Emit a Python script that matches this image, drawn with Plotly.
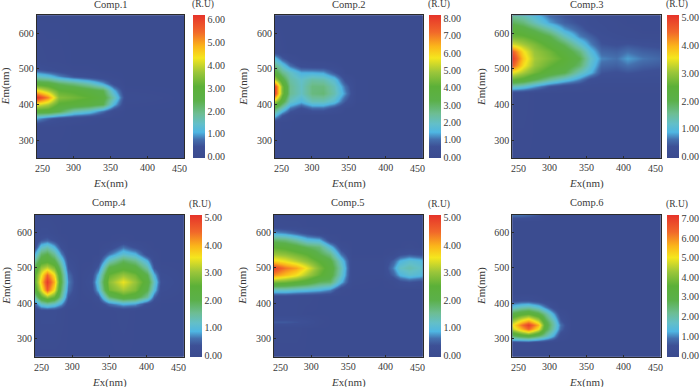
import plotly.graph_objects as go

W, H = 700, 387

titles = ["Comp.1", "Comp.2", "Comp.3", "Comp.4", "Comp.5", "Comp.6"]
x_ticks = [250, 300, 350, 400, 450]
y_ticks = [300, 400, 500, 600]

x1 = [250, 265, 280, 300, 320, 340, 355, 370, 450]
y1 = [250, 340, 360, 380, 400, 420, 440, 460, 480, 500, 520, 650]
z1 = [
    [.05, .05, .05, .05, .05, .05, .05, .05, .05],
    [.1, .1, .1, .05, .05, .05, .05, .05, .05],
    [1.0, .6, .3, .2, .1, .05, .05, .05, .05],
    [2.8, 2.8, 2.4, 1.6, 1.3, .7, .15, .05, .05],
    [4.2, 3.8, 3.0, 2.9, 2.7, 2.4, 1.1, .1, .05],
    [6.2, 5.2, 3.5, 3.3, 3.1, 2.7, 1.6, .2, .05],
    [4.4, 3.8, 3.1, 3.0, 2.7, 2.4, 1.1, .1, .05],
    [2.8, 2.7, 2.3, 2.0, 1.6, 1.0, .3, .05, .05],
    [1.5, 1.3, .9, .5, .3, .15, .1, .05, .05],
    [.5, .3, .2, .1, .1, .05, .05, .05, .05],
    [.15, .1, .1, .05, .05, .05, .05, .05, .05],
    [.05, .05, .05, .05, .05, .05, .05, .05, .05],
]

x2 = [250, 260, 270, 285, 300, 315, 330, 345, 360, 450]
y2 = [250, 350, 370, 390, 410, 430, 450, 470, 490, 510, 530, 550, 650]
z2 = [
    [.05, .05, .05, .05, .05, .05, .05, .05, .05, .05],
    [.2, .1, .1, .05, .05, .05, .05, .05, .05, .05],
    [1.6, .7, .2, .1, .05, .05, .05, .05, .05, .05],
    [3.0, 2.0, 1.0, .5, .9, .9, .5, .1, .05, .05],
    [5.0, 3.5, 2.0, 1.5, 2.1, 2.1, 1.7, .7, .1, .05],
    [7.8, 4.5, 2.5, 2.0, 2.7, 2.8, 2.2, 1.2, .1, .05],
    [7.8, 4.5, 2.5, 2.0, 2.7, 2.7, 2.1, 1.0, .1, .05],
    [5.0, 3.5, 2.3, 1.9, 2.3, 2.2, 1.7, .5, .1, .05],
    [3.5, 2.6, 2.0, 1.4, 1.4, 1.3, .7, .1, .05, .05],
    [2.6, 1.8, 1.0, .4, .3, .3, .2, .05, .05, .05],
    [1.6, .8, .3, .1, .05, .05, .05, .05, .05, .05],
    [.3, .15, .05, .05, .05, .05, .05, .05, .05, .05],
    [.05, .05, .05, .05, .05, .05, .05, .05, .05, .05],
]

x3 = [250, 265, 280, 300, 320, 340, 355, 370, 390, 405, 425, 450]
y3 = [250, 430, 450, 470, 490, 510, 530, 550, 570, 590, 610, 630, 650]
z3 = [
    [.05, .05, .05, .05, .05, .05, .05, .05, .05, .05, .05, .05],
    [.1, .1, .05, .05, .05, .05, .05, .05, .05, .05, .05, .05],
    [1.3, 1.1, .8, .4, .2, .15, .1, .1, .1, .1, .1, .1],
    [2.6, 2.4, 2.0, 1.5, 1.1, .7, .3, .2, .2, .2, .2, .2],
    [3.5, 3.1, 2.7, 2.3, 2.0, 1.3, .9, .4, .35, .4, .35, .3],
    [4.6, 3.6, 3.0, 2.6, 2.3, 1.8, 1.1, .55, .5, .62, .5, .45],
    [5.0, 3.8, 3.1, 2.8, 2.5, 2.0, 1.2, .7, .62, .8, .65, .55],
    [4.6, 3.6, 3.0, 2.7, 2.3, 1.7, 1.0, .55, .5, .62, .5, .45],
    [3.4, 3.1, 2.8, 2.4, 1.9, 1.2, .7, .4, .35, .4, .35, .3],
    [2.7, 2.6, 2.4, 2.0, 1.3, .7, .5, .3, .2, .15, .1, .1],
    [2.4, 2.2, 1.9, 1.4, .8, .5, .3, .2, .1, .1, .05, .05],
    [1.9, 1.7, 1.3, .8, .5, .35, .2, .15, .1, .05, .05, .05],
    [1.5, 1.3, 1.0, .6, .4, .3, .2, .1, .05, .05, .05, .05],
]

x4 = [250, 258, 266, 275, 285, 295, 310, 325, 335, 350, 368, 385, 400, 410, 420, 450]
y4 = [250, 380, 400, 420, 440, 460, 480, 500, 520, 540, 560, 580, 600, 650]
z4 = [
    [.05, .05, .05, .05, .05, .05, .05, .05, .05, .05, .05, .05, .05, .05, .05, .05],
    [.1, .2, .2, .2, .1, .05, .05, .05, .05, .05, .1, .05, .05, .05, .05, .05],
    [.5, 1.2, 1.4, 1.2, .8, .2, .05, .05, .1, .6, .9, .8, .3, .1, .05, .05],
    [1.5, 2.5, 3.0, 2.6, 1.5, .4, .05, .1, .4, 1.8, 2.4, 2.2, 1.5, .5, .1, .05],
    [2.3, 3.4, 4.6, 3.6, 1.8, .6, .05, .2, .9, 2.7, 3.1, 2.8, 2.0, 1.0, .2, .05],
    [2.6, 3.8, 5.0, 4.0, 2.0, .7, .05, .3, 1.1, 2.9, 3.5, 3.0, 2.3, 1.2, .3, .05],
    [2.5, 3.5, 4.5, 3.6, 1.9, .6, .05, .2, .9, 2.6, 3.0, 2.7, 2.0, .9, .2, .05],
    [2.1, 3.0, 3.3, 2.8, 1.6, .4, .05, .1, .5, 2.1, 2.4, 2.2, 1.4, .4, .1, .05],
    [1.5, 2.3, 2.4, 2.1, 1.2, .25, .05, .05, .2, 1.3, 1.9, 1.6, .9, .15, .05, .05],
    [.9, 1.8, 2.0, 1.5, .7, .1, .05, .05, .05, .6, 1.1, .9, .2, .1, .05, .05],
    [.3, 1.1, 1.3, .9, .3, .05, .05, .05, .05, .15, .6, .3, .1, .05, .05, .05],
    [.1, .4, .5, .3, .1, .05, .05, .05, .05, .05, .1, .05, .05, .05, .05, .05],
    [.1, .2, .2, .1, .05, .05, .05, .05, .05, .05, .05, .05, .05, .05, .05, .05],
    [.05, .05, .05, .05, .05, .05, .05, .05, .05, .05, .05, .05, .05, .05, .05, .05],
]

x5 = [250, 265, 280, 295, 310, 325, 340, 355, 395, 410, 420, 432, 445, 450]
y5 = [250, 330, 350, 370, 420, 440, 460, 480, 500, 520, 540, 560, 580, 600, 620, 650]
z5 = [
    [.05, .05, .05, .05, .05, .05, .05, .05, .05, .05, .05, .05, .05, .05],
    [.1, .1, .1, .05, .05, .05, .05, .05, .05, .05, .05, .05, .05, .05],
    [.45, .45, .4, .3, .1, .05, .05, .05, .05, .05, .05, .05, .05, .05],
    [.1, .1, .1, .05, .05, .05, .05, .05, .05, .05, .05, .05, .05, .05],
    [.15, .15, .1, .1, .05, .05, .05, .05, .05, .05, .05, .05, .05, .05],
    [1.2, 1.2, 1.1, 1.0, .9, .7, .1, .05, .05, .05, .05, .05, .05, .05],
    [2.8, 2.7, 2.5, 2.3, 1.9, 1.8, .9, .1, .05, .1, .3, .4, .3, .3],
    [4.2, 3.9, 3.6, 3.1, 2.6, 2.2, 1.2, .1, .1, .5, .9, 1.1, 1.0, .9],
    [4.9, 4.4, 4.1, 3.5, 2.8, 2.3, 1.3, .1, .1, .7, 1.2, 1.35, 1.2, 1.1],
    [3.7, 3.5, 3.2, 2.9, 2.5, 2.1, 1.1, .1, .1, .5, .9, 1.1, 1.0, .9],
    [3.0, 2.9, 2.7, 2.5, 2.0, 1.6, .6, .05, .05, .1, .3, .4, .3, .3],
    [2.5, 2.4, 2.2, 1.9, 1.7, 1.0, .2, .05, .05, .05, .05, .1, .05, .05],
    [1.8, 1.7, 1.4, 1.0, .9, .2, .05, .05, .05, .05, .05, .05, .05, .05],
    [.8, .7, .5, .3, .1, .05, .05, .05, .05, .05, .05, .05, .05, .05],
    [.15, .1, .1, .05, .05, .05, .05, .05, .05, .05, .05, .05, .05, .05],
    [.05, .05, .05, .05, .05, .05, .05, .05, .05, .05, .05, .05, .05, .05],
]

x6 = [250, 262, 272, 285, 295, 305, 315, 330, 450]
y6 = [250, 290, 310, 330, 340, 350, 370, 390, 410, 430, 630, 650]
z6 = [
    [.05, .05, .05, .05, .05, .05, .05, .05, .05],
    [.2, .2, .2, .1, .05, .05, .05, .05, .05],
    [2.6, 3.0, 3.2, 2.6, 2.0, 1.2, .3, .05, .05],
    [4.6, 5.6, 6.4, 5.0, 3.0, 1.9, .8, .05, .05],
    [5.0, 6.2, 7.0, 5.6, 3.2, 2.0, .9, .05, .05],
    [4.4, 5.4, 6.0, 4.8, 3.0, 1.9, .7, .05, .05],
    [3.0, 3.4, 3.6, 3.0, 2.2, 1.2, .3, .05, .05],
    [1.5, 1.8, 1.9, 1.5, .9, .3, .05, .05, .05],
    [.3, .4, .4, .2, .1, .05, .05, .05, .05],
    [.05, .05, .05, .05, .05, .05, .05, .05, .05],
    [.05, .05, .05, .05, .05, .05, .05, .05, .05],
    [.9, .9, .8, .6, .2, .05, .05, .05, .05],
]

xs = [x1, x2, x3, x4, x5, x6]
ys = [y1, y2, y3, y4, y5, y6]
zs = [z1, z2, z3, z4, z5, z6]
zmaxes = [6.2, 8.2, 5.1, 5.1, 5.1, 7.2]
cb_ticks = [
    [0, 1, 2, 3, 4, 5, 6],
    [0, 1, 2, 3, 4, 5, 6, 7, 8],
    [0, 1, 2, 3, 4, 5],
    [0, 1, 2, 3, 4, 5],
    [0, 1, 2, 3, 4, 5],
    [0, 1, 2, 3, 4, 5, 6, 7],
]

colorscale = [
    [0.00, "#3b4b8f"], [0.08, "#3d5096"], [0.13, "#4570ae"], [0.18, "#4fb6e2"],
    [0.24, "#63bfc8"], [0.31, "#6dbd93"], [0.40, "#5bb04a"], [0.50, "#5cb038"],
    [0.60, "#9cc63a"], [0.70, "#f5e61e"], [0.78, "#fbb61a"], [0.88, "#f1682a"],
    [1.00, "#e6332a"],
]

# pixel boxes: plot x0, x1, y0 (top), y1 (bottom); colourbar x0
boxes = [
    (36.7, 184.3, 15.3, 158.0, 193.0),
    (275.0, 422.7, 15.3, 158.0, 429.3),
    (512.3, 660.7, 15.3, 158.0, 666.7),
    (35.0, 183.7, 214.7, 356.7, 189.7),
    (274.0, 422.7, 214.7, 356.7, 429.3),
    (512.3, 660.7, 214.7, 356.7, 666.7),
]

FONT = "Liberation Serif"
INK = "#3a3a3a"
AXC = "#2b2b2b"

fig = go.Figure()
layout = dict(
    width=W, height=H, margin=dict(l=0, r=0, t=0, b=0), autosize=False,
    paper_bgcolor="white", plot_bgcolor="#3b4b8f", showlegend=False,
    font=dict(family=FONT, size=10, color=INK),
)
ann = []
for i, (bx0, bx1, by0, by1, cx) in enumerate(boxes):
    n = "" if i == 0 else str(i + 1)
    fig.add_trace(go.Heatmap(
        x=xs[i], y=ys[i], z=zs[i], zsmooth="best", xaxis=f"x{n}", yaxis=f"y{n}",
        colorscale=colorscale, zmin=-0.05, zmax=zmaxes[i], hoverinfo="skip",
        colorbar=dict(
            x=cx / W, xanchor="left", xref="paper", thickness=12, thicknessmode="pixels",
            y=1 - by1 / H, yanchor="bottom", yref="paper", len=(by1 - by0) / H, lenmode="fraction",
            outlinewidth=0, ypad=0, xpad=0, tickvals=cb_ticks[i], tickformat=".2f",
            ticks="", ticklabelposition="outside", tickfont=dict(family=FONT, size=10, color=INK),
        ),
    ))
    axis_common = dict(
        showgrid=False, zeroline=False, showline=True, mirror=True, linecolor=AXC, linewidth=1,
        ticks="inside", ticklen=2, tickwidth=1, tickcolor=AXC,
        tickfont=dict(family=FONT, size=10, color=INK),
    )
    xa = dict(axis_common)
    xa.update(domain=[bx0 / W, bx1 / W], range=[250, 450], anchor=f"y{n}",
              tickvals=x_ticks[1:-1])
    ya = dict(axis_common)
    ya.update(domain=[1 - by1 / H, 1 - by0 / H], range=[250, 650], anchor=f"x{n}",
              tickvals=y_ticks)
    layout[f"xaxis{n}"] = xa
    layout[f"yaxis{n}"] = ya
    xr = f"x{n} domain"
    yr = f"y{n} domain"
    top_row = i < 3
    ann.append(dict(text=titles[i], xref=xr, yref=yr, x=0.5, xanchor="center", y=1,
                    yshift=3 if top_row else 5, yanchor="bottom",
                    showarrow=False, font=dict(size=10.5)))
    ann.append(dict(text="<i>E</i>x(nm)", xref=xr, yref=yr, x=0.5, xanchor="center", y=0, yshift=-17,
                    yanchor="top", showarrow=False, font=dict(size=11)))
    ann.append(dict(text="<i>E</i>m(nm)", xref=xr, yref=yr, x=0, xanchor="center",
                    xshift=-28 if i == 3 else -31, y=0.5,
                    yanchor="middle", textangle=-90, showarrow=False, font=dict(size=11)))
    ann.append(dict(text=str(x_ticks[0]), xref=xr, yref=yr, x=0, xanchor="center", xshift=6, y=0,
                    yshift=-3, yanchor="top", showarrow=False, font=dict(size=10)))
    ann.append(dict(text=str(x_ticks[-1]), xref=xr, yref=yr, x=1, xanchor="center", xshift=-5, y=0,
                    yshift=-3, yanchor="top", showarrow=False, font=dict(size=10)))
    ann.append(dict(text="(R.U)", xref="paper", yref="paper", x=(cx + 10) / W, xanchor="center",
                    y=1 - by0 / H, yshift=3, yanchor="bottom", showarrow=False, font=dict(size=9.5)))

layout["annotations"] = ann
fig.update_layout(**layout)
fig.write_html("out.html", post_script="document.body.style.margin='0';",
               config={"displayModeBar": False})
